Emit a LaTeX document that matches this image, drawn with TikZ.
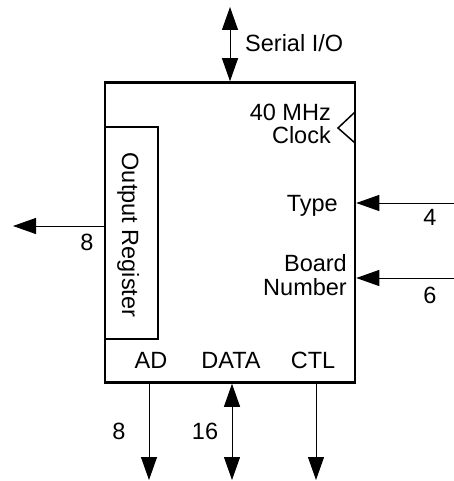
\documentclass[tikz,border=0pt]{standalone}
\usepackage{fontspec}
\setmainfont{Liberation Sans}
\usetikzlibrary{arrows.meta, positioning}

\begin{document}
\begin{tikzpicture}[x=1pt, y=-1pt, >={Triangle[length=23pt, width=16pt]},
    font=\fontsize{23.5}{23.5}\selectfont,
    bus/.style={line width=1pt},
    lbl/.style={inner sep=0pt}]

    \useasboundingbox (0,0) rectangle (454,481);

    % --- Baustein ---
    \node[draw, line width=2.5pt, minimum width=250pt, minimum height=300pt] (board) at (230,232.5) {};

    % Ausgaberegister (links innen)
    \node[draw, line width=2.3pt, minimum width=53pt, minimum height=212pt] (reg) at (131.5,233) {};
    \node[lbl, rotate=-90, anchor=base] (reglbl) at (122,235) {Output Register};

    % Takteingang
    \draw[line width=1.5pt] (355,112) -- (338,128) -- (355,143);
    \node[lbl, align=right, anchor=east] (clk) at (331,124) {40 MHz\\Clock};

    % --- Anschluesse ---
    % Serial I/O (oben)
    \coordinate (sio) at (230,7);
    \draw[bus, <->] (sio) -- (board.north);
    \node[lbl, anchor=base west] (siolbl) at (245,52) {Serial I/O};

    % Ausgang (links)
    \coordinate (out) at (13,226);
    \draw[bus, ->] (board.west |- out) -- (out);
    \node[lbl, anchor=base] (outw) at (87,250) {8};

    % Type (rechts)
    \coordinate (typein) at (454,203);
    \draw[bus, ->] (typein) -- (typein -| board.east);
    \node[lbl, anchor=base east] (typelbl) at (338,211.5) {Type};
    \node[lbl, anchor=base] (typew) at (430,225) {4};

    % Board Number (rechts)
    \coordinate (bnin) at (454,278);
    \draw[bus, ->] (bnin) -- (bnin -| board.east);
    \node[lbl, align=right, anchor=east] (bnlbl) at (347,275) {Board\\Number};
    \node[lbl, anchor=base] (bnw) at (430,303) {6};

    % --- Busse unten ---
    \node[lbl, anchor=base] (adlbl) at (151,368) {AD};
    \node[lbl, anchor=base] (datalbl) at (231,368) {DATA};
    \node[lbl, anchor=base] (ctllbl) at (313,368) {CTL};

    \coordinate (adout) at (149,480);
    \coordinate (dataout) at (232,480);
    \coordinate (ctlout) at (316,480);
    \draw[bus, ->] (board.south -| adout) -- (adout);
    \draw[bus, <->] (board.south -| dataout) -- (dataout);
    \draw[bus, ->] (board.south -| ctlout) -- (ctlout);

    \node[lbl, anchor=base] (adw) at (119,439) {8};
    \node[lbl, anchor=base] (dataw) at (205,439) {16};

\end{tikzpicture}
\end{document}
